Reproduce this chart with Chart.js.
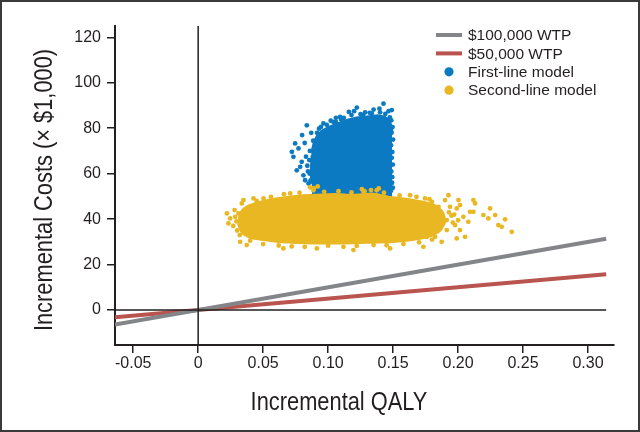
<!DOCTYPE html>
<html>
<head>
<meta charset="utf-8">
<script src="https://cdn.jsdelivr.net/npm/chart.js@4.4.0/dist/chart.umd.min.js"></script>
<style>
  html, body { margin: 0; padding: 0; background: #fff; }
</style>
</head>
<body>
<canvas id="chart" width="640" height="432"></canvas>
<script>

// tick values
var xTicks = [-0.05, 0, 0.05, 0.10, 0.15, 0.20, 0.25, 0.30];
var yTicks = [0, 20, 40, 60, 80, 100, 120];

// willingness-to-pay lines (incremental QALY, incremental cost x $1,000)
var wtp100 = [[-0.064, -6.4], [0.314, 31.4]];
var wtp50 = [[-0.064, -3.2], [0.314, 15.7]];

// reference axes through the origin
var zeroH = [[-0.064, 0], [0.314, 0]];
var zeroV = [[0, -15.4], [0, 125]];

// first-line model: top of the dense core (its foot sits under the second-line band) and loose points
var firstCoreBase = 49;
var firstUpper = [[0.0875, 56.0], [0.0872, 63.0], [0.0876, 67.5], [0.0882, 71.0], [0.0895, 74.0],
  [0.0920, 76.8], [0.0955, 78.8], [0.1010, 80.5], [0.1080, 82.0], [0.1150, 83.5], [0.1220, 84.5],
  [0.1300, 85.0], [0.1380, 85.5], [0.1430, 85.0], [0.1465, 83.5], [0.1485, 81.0], [0.1492, 78.0]];
var firstDots = [
  [0.1426, 90.8], [0.1395, 88.6], [0.1221, 89.1], [0.1285, 87.0], [0.1336, 86.5], [0.1092, 85.0],
  [0.1041, 82.8], [0.0964, 82.1], [0.0836, 81.3], [0.0746, 73.3], [0.0721, 69.6], [0.0733, 67.4],
  [0.0772, 71.1], [0.0797, 65.2], [0.0785, 63.0], [0.0759, 61.5], [0.0810, 59.3], [0.0823, 57.1],
  [0.0849, 55.7],
  [0.1486, 83.5], [0.1488, 78.0], [0.1484, 72.5], [0.1490, 67.0], [0.1486, 61.0], [0.1492, 56.0],
  [0.1484, 52.5], [0.1490, 88.0], [0.1465, 87.5], [0.1496, 80.5], [0.1494, 69.5], [0.1498, 64.0],
  [0.1494, 58.5], [0.1498, 53.8], [0.1500, 75.0], [0.1474, 80.0], [0.1476, 70.0], [0.1474, 60.0],
  [0.1462, 82.5], [0.1464, 76.5], [0.1460, 71.5], [0.1466, 66.0], [0.1462, 62.0], [0.1466, 57.5],
  [0.1460, 53.5], [0.1455, 79.0], [0.1456, 68.5], [0.1458, 59.5],
  [0.0990, 81.5], [0.1060, 82.8], [0.1120, 84.5], [0.1180, 85.8], [0.1250, 86.2], [0.1320, 86.8],
  [0.1400, 87.0], [0.1160, 87.2], [0.1060, 84.6], [0.0930, 79.8], [0.0945, 80.6], [0.1020, 83.3],
  [0.1100, 83.8], [0.1200, 87.5], [0.1270, 85.8], [0.1350, 88.2], [0.1440, 86.3], [0.1475, 84.8],
  [0.0860, 70.0], [0.0855, 66.0], [0.0858, 60.0], [0.0865, 57.0], [0.0890, 53.5], [0.0840, 63.5],
  [0.0830, 67.5], [0.0885, 74.5], [0.0915, 78.0], [0.0820, 73.5], [0.0800, 77.0], [0.0870, 78.0],
  [0.0845, 61.0]
];

// second-line model
var secondUpper = [[0.0310, 38.0], [0.0330, 43.0], [0.0380, 45.5], [0.0450, 47.0], [0.0540, 48.2],
  [0.0640, 49.2], [0.0750, 50.0], [0.0900, 50.5], [0.1050, 50.8], [0.1200, 50.5], [0.1350, 51.0],
  [0.1480, 49.5], [0.1600, 48.8], [0.1720, 47.5], [0.1820, 46.0], [0.1880, 43.0], [0.1900, 39.0]];
var secondLower = [[0.0310, 38.0], [0.0340, 34.0], [0.0400, 32.0], [0.0500, 31.0], [0.0650, 30.0],
  [0.0900, 29.5], [0.1100, 29.5], [0.1300, 29.8], [0.1500, 30.2], [0.1650, 31.0], [0.1780, 32.5],
  [0.1860, 35.0], [0.1900, 39.0]];
var secondDots = [
  [0.0221, 42.5], [0.0233, 38.1], [0.0246, 40.3], [0.0285, 41.0], [0.0336, 46.9], [0.0349, 48.4],
  [0.0426, 49.1], [0.0503, 49.1], [0.0323, 30.0], [0.0374, 28.6], [0.0477, 33.0], [0.0270, 37.0],
  [0.0300, 35.0], [0.0280, 44.0], [0.0295, 39.0], [0.0310, 42.5], [0.0320, 33.0],
  [0.1926, 50.5], [0.1746, 49.1], [0.1798, 47.6], [0.1900, 48.4], [0.2003, 48.4], [0.2015, 46.2],
  [0.2118, 48.4], [0.2131, 46.9], [0.1849, 45.4], [0.1938, 45.4], [0.1990, 44.7], [0.2092, 43.2],
  [0.2118, 43.2], [0.2246, 44.7], [0.2195, 41.8], [0.2233, 40.3], [0.2285, 41.8], [0.2362, 39.9],
  [0.2310, 37.4], [0.2336, 36.6], [0.2413, 34.4], [0.2079, 38.8], [0.2015, 35.2], [0.1977, 37.4],
  [0.2041, 41.0], [0.1874, 30.0], [0.1990, 31.5], [0.2054, 32.2], [0.1823, 32.2], [0.1913, 35.2],
  [0.1913, 39.6], [0.1862, 42.5], [0.1759, 32.2], [0.1733, 27.8], [0.1477, 27.1],
  [0.1950, 41.5], [0.1960, 38.5], [0.1930, 43.0], [0.1970, 42.0], [0.2000, 39.5],
  [0.0708, 51.3], [0.0887, 52.7], [0.1272, 52.0], [0.1374, 52.7], [0.1631, 50.5], [0.0450, 48.0],
  [0.0560, 49.8], [0.0660, 51.0], [0.0780, 51.6], [0.0970, 52.0], [0.1080, 52.3], [0.1180, 51.8],
  [0.1280, 52.3], [0.1430, 51.6], [0.1550, 50.4], [0.1680, 49.8], [0.1780, 48.8],
  [0.0860, 54.0], [0.0890, 53.6], [0.0920, 54.4], [0.1260, 53.2], [0.1330, 52.8], [0.1390, 53.5],
  [0.0656, 27.1], [0.0913, 27.1], [0.1118, 27.8], [0.1195, 26.4], [0.0400, 30.5], [0.0500, 29.0],
  [0.0620, 28.4], [0.0720, 28.0], [0.0820, 27.8], [0.1000, 28.3], [0.1220, 28.2], [0.1350, 28.6],
  [0.1450, 28.5], [0.1580, 29.0], [0.1700, 29.8], [0.1800, 31.0]
];

var BLUE = '#0b7ac3';
var GOLD = '#e9b722';
var GRAY = '#838589';
var RED = '#b9544e';
var INK = '#231f20';
var TICKFONT = '"Liberation Sans", Arial, sans-serif';

function pts(arr) {
  return arr.map(function (p) { return { x: p[0], y: p[1] }; });
}

function lineSet(label, arr, color, width, order) {
  return {
    type: 'line', label: label, data: pts(arr), borderColor: color, borderWidth: width,
    pointRadius: 0, fill: false, tension: 0, order: order
  };
}

function outline(label, arr, color, order, fillTo, tension) {
  return {
    type: 'line', label: label, data: pts(arr), borderColor: color, borderWidth: 3,
    backgroundColor: color, pointRadius: 0, tension: tension, order: order,
    fill: fillTo === undefined ? false : fillTo
  };
}

function dotSet(label, arr, color, order) {
  return {
    type: 'scatter', label: label, data: pts(arr), backgroundColor: color, borderWidth: 0,
    pointRadius: 2.4, order: order
  };
}

var datasets = [
  lineSet('$100,000 WTP', wtp100, GRAY, 4, 1),          // 0
  lineSet('$50,000 WTP', wtp50, RED, 4, 2),             // 1
  lineSet('zeroH', zeroH, INK, 1.5, 0),                 // 2
  lineSet('zeroV', zeroV, INK, 1.5, 0),                 // 3
  dotSet('Second-line model', secondDots, GOLD, 3),     // 4
  outline('secondUpper', secondUpper, GOLD, 4, 6, 0.2), // 5
  outline('secondLower', secondLower, GOLD, 5, false, 0.2), // 6
  dotSet('First-line model', firstDots, BLUE, 6),       // 7
  outline('firstUpper', firstUpper, BLUE, 7, { value: firstCoreBase }, 0)  // 8
];

var legendSets = [0, 1, 7, 4];

// condensed title text: Arial metrics squeezed sideways
function narrowText(ctx, text, x, y, angle) {
  ctx.save();
  ctx.translate(x, y);
  ctx.rotate(angle);
  ctx.scale(0.84, 1);
  ctx.fillText(text, 0, 0);
  ctx.restore();
}

var decor = {
  id: 'decor',
  afterDraw: function (chart) {
    var ctx = chart.ctx;
    ctx.save();

    // axis titles
    ctx.fillStyle = INK;
    ctx.font = '26px ' + TICKFONT;
    ctx.textAlign = 'center';
    ctx.textBaseline = 'alphabetic';
    narrowText(ctx, 'Incremental QALY', 339, 410, 0);
    narrowText(ctx, 'Incremental Costs (\u00d7 $1,000)', 52, 190, -Math.PI / 2);

    // legend
    ctx.font = '15.5px ' + TICKFONT;
    ctx.textAlign = 'left';
    ctx.textBaseline = 'middle';
    legendSets.forEach(function (idx, i) {
      var ds = chart.data.datasets[idx];
      var y = 35 + i * 18.4;
      if (ds.type === 'line') {
        ctx.strokeStyle = ds.borderColor;
        ctx.lineWidth = 4;
        ctx.beginPath();
        ctx.moveTo(436, y);
        ctx.lineTo(462, y);
        ctx.stroke();
      } else {
        ctx.fillStyle = ds.backgroundColor;
        ctx.beginPath();
        ctx.arc(449, y, 4.6, 0, Math.PI * 2);
        ctx.fill();
      }
      ctx.fillStyle = INK;
      ctx.fillText(ds.label, 468, y + 1);
    });

    // frame round the figure
    ctx.strokeStyle = '#3a3a3a';
    ctx.lineWidth = 2;
    ctx.strokeRect(1, 1, chart.width - 2, chart.height - 2);
    ctx.restore();
  }
};

var axisStyle = {
  grid: { display: true, drawOnChartArea: false, drawTicks: true, tickLength: 8, color: INK, lineWidth: 1.5 },
  border: { display: true, color: INK, width: 2 }
};

var config = {
  type: 'scatter',
  data: { datasets: datasets },
  options: {
    responsive: false,
    animation: false,
    layout: { padding: { top: 26, right: 26, left: 0, bottom: 0 } },
    plugins: {
      legend: { display: false },
      tooltip: { enabled: false },
      filler: { propagate: false }
    },
    scales: {
      x: {
        type: 'linear', min: -0.064, max: 0.32,
        grid: axisStyle.grid, border: axisStyle.border,
        afterBuildTicks: function (s) { s.ticks = xTicks.map(function (v) { return { value: v }; }); },
        afterFit: function (s) { s.height = 87; },
        ticks: {
          color: INK, padding: 1, maxRotation: 0, font: { family: TICKFONT, size: 16 },
          callback: function (v) { return v === 0 ? '0' : v.toFixed(2); }
        }
      },
      y: {
        type: 'linear', min: -15.4, max: 125,
        grid: axisStyle.grid, border: axisStyle.border,
        afterBuildTicks: function (s) { s.ticks = yTicks.map(function (v) { return { value: v }; }); },
        afterFit: function (s) { s.width = 115; },
        ticks: { color: INK, padding: 6, font: { family: TICKFONT, size: 16 } }
      }
    }
  },
  plugins: [decor]
};

window.myChart = new Chart(document.getElementById('chart').getContext('2d'), config);
</script>
</body>
</html>
